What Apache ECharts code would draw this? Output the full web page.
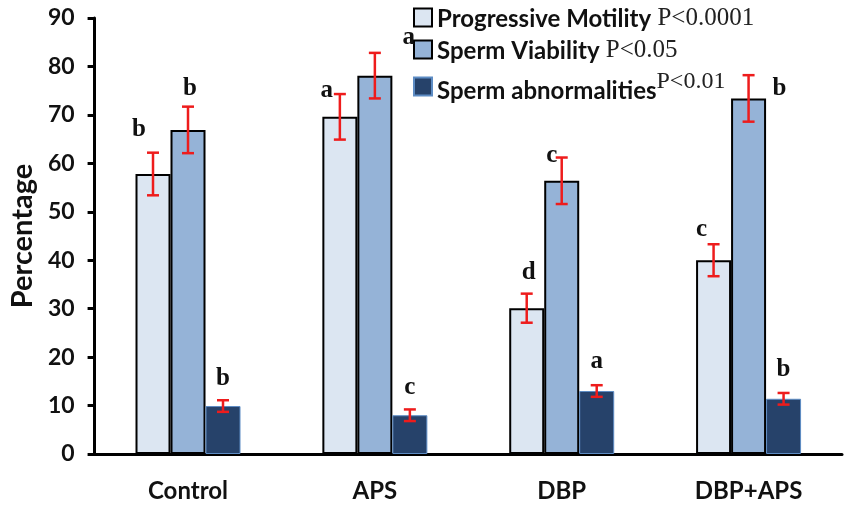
<!DOCTYPE html>
<html><head><meta charset="utf-8">
<script src="https://cdn.jsdelivr.net/npm/echarts@6/dist/echarts.min.js"></script>
<style>html,body{margin:0;padding:0;background:#fff}#c{width:851px;height:510px}</style>
</head><body><div id="c"></div>
<script>
var categories = ['Control', 'APS', 'DBP', 'DBP+APS'];
var seriesNames = ['Progressive Motility', 'Sperm Viability', 'Sperm abnormalities'];
var pValues = ['P<0.0001', 'P<0.05', 'P<0.01'];
var motility = [57.8, 69.6, 30.1, 40.0];
var motilityErr = [4.4, 4.7, 3.0, 3.3];
var viability = [66.9, 78.1, 56.4, 73.4];
var viabilityErr = [4.8, 4.7, 4.8, 4.8];
var abnormal = [9.9, 8.0, 13.0, 11.4];
var abnormalErr = [1.2, 1.2, 1.2, 1.2];
var motilityLetters = ['b', 'a', 'd', 'c'];
var viabilityLetters = ['b', 'a', 'c', 'b'];
var abnormalLetters = ['b', 'c', 'a', 'b'];
var yTicks = [0, 10, 20, 30, 40, 50, 60, 70, 80, 90];

// letter placement tweaks (pixels, relative to error-bar top) - layout only
var letterShift = [
  [[-14,-23],[-13,-4],[2,-21],[-12,-15]],
  [[2,-18],[34,-15],[-10,-2],[31,13]],
  [[0,-22],[0,-22],[0,-24],[0,-23]]
];

var BW = 35;
var values = [motility, viability, abnormal];
var errs = [motilityErr, viabilityErr, abnormalErr];
var letters = [motilityLetters, viabilityLetters, abnormalLetters];
var fills = ['#dce6f2', '#95b3d7', '#26426a'];
var borders = ['#000', '#000', '#5d8cc4'];
var bws = [2, 2, 1];

var series = [];
for (var s = 0; s < 3; s++) {
  series.push({
    name: seriesNames[s], type: 'bar', barWidth: BW, barGap: '0%',
    data: values[s],
    itemStyle: { color: fills[s], borderColor: borders[s], borderWidth: bws[s] },
    z: 2
  });
}
for (var s2 = 0; s2 < 3; s2++) {
  (function (si) {
    var data = values[si].map(function (v, i) { return [i, v, errs[si][i], letters[si][i]]; });
    series.push({
      type: 'custom', name: seriesNames[si] + ' err', data: data, z: 5,
      tooltip: { show: false }, legendHoverLink: false,
      renderItem: function (params, api) {
        var i = api.value(0), v = api.value(1), e = api.value(2);
        var base = api.coord([i, v]);
        var x = base[0] + (si - 1) * BW;
        var top = api.coord([i, v + e])[1];
        var bot = api.coord([i, v - e])[1];
        var st = { stroke: '#ee1c1c', lineWidth: 2.5 };
        var sh = letterShift[si][i];
        return { type: 'group', children: [
          { type: 'line', shape: { x1: x, y1: top, x2: x, y2: bot }, style: st },
          { type: 'line', shape: { x1: x - 6, y1: top, x2: x + 6, y2: top }, style: st },
          { type: 'line', shape: { x1: x - 6, y1: bot, x2: x + 6, y2: bot }, style: st },
          { type: 'text', x: x + sh[0], y: top + sh[1], style: {
            text: letters[si][i], fill: '#111', font: 'bold 25px "Liberation Serif"',
            align: 'center', verticalAlign: 'middle' } }
        ]};
      }
    });
  })(s2);
}

var legendTops = [6, 38, 70];
var legends = [0, 1, 2].map(function (k) {
  return {
    data: [seriesNames[k]], left: 413, top: legendTops[k], icon: 'rect',
    itemWidth: 18, itemHeight: 18, itemGap: 0, padding: 0,
    selectedMode: false,
    formatter: function (n) {
      return '{n|' + n + '}' + (k === 2 ? '{q|' + pValues[k] + '}' : '{p| ' + pValues[k] + '}');
    },
    textStyle: {
      rich: {
        n: { fontFamily: 'Lato', fontWeight: 'bold', fontSize: 24, color: '#111', verticalAlign: 'bottom', lineHeight: k === 2 ? 33 : 27 },
        p: { fontFamily: 'Liberation Serif', fontSize: 25, color: '#222', verticalAlign: 'bottom', lineHeight: 27 },
        q: { fontFamily: 'Liberation Serif', fontSize: 24, color: '#222', verticalAlign: 'top', lineHeight: 33 }
      }
    }
  };
});

var chart = echarts.init(document.getElementById('c'));
chart.setOption({
  animation: false,
  backgroundColor: '#fff',
  legend: legends,
  grid: { left: 88, right: 9, top: 18, bottom: 56 },
  xAxis: {
    type: 'category', data: categories,
    axisLine: { lineStyle: { color: '#000', width: 3 } },
    axisTick: { alignWithLabel: true, length: 6, lineStyle: { color: '#000', width: 3 } },
    axisLabel: { fontFamily: 'Lato', fontWeight: 'bold', fontSize: 24, color: '#111', margin: 25 }
  },
  yAxis: {
    type: 'value', min: yTicks[0], max: yTicks[yTicks.length - 1], interval: 10,
    name: 'Percentage', nameLocation: 'middle', nameGap: 52,
    nameTextStyle: { fontFamily: 'Lato', fontWeight: 'bold', fontSize: 29, color: '#111' },
    axisLine: { show: true, lineStyle: { color: '#000', width: 3 } },
    axisTick: { show: true, length: 7, lineStyle: { color: '#000', width: 3 } },
    splitLine: { show: false },
    axisLabel: { fontFamily: 'Lato', fontWeight: 'bold', fontSize: 23, color: '#111', margin: 20 }
  },
  series: series
});
</script></body></html>
